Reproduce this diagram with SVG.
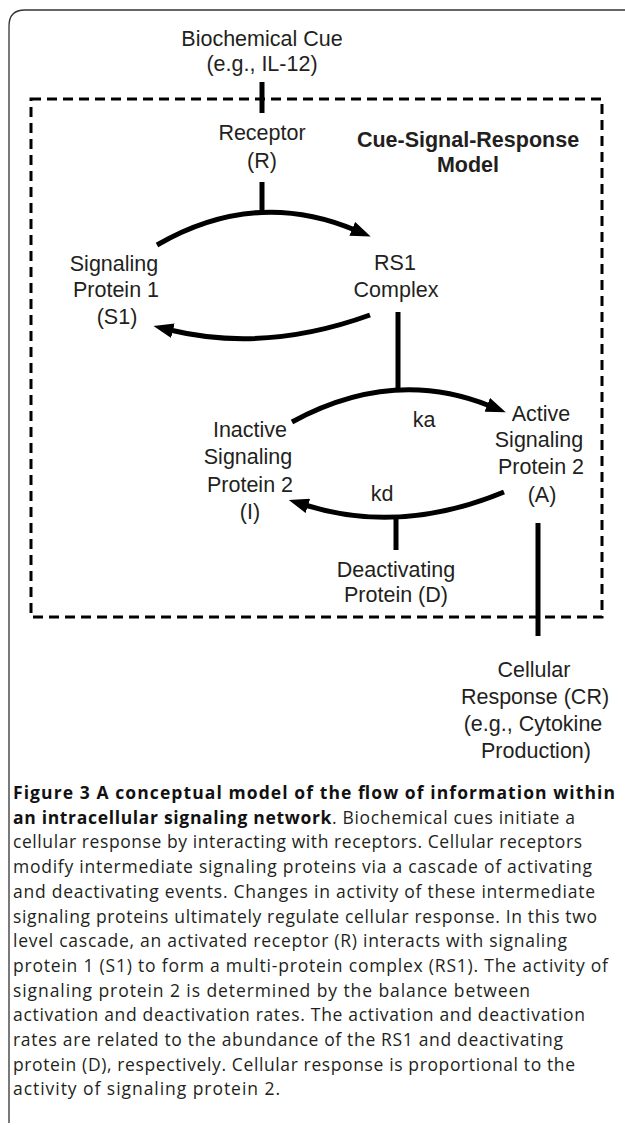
<svg xmlns="http://www.w3.org/2000/svg" width="625" height="1125" viewBox="0 0 625 1125">
<style>
.lbl{font-family:"Liberation Sans",Arial,sans-serif;font-size:21.5px;fill:#231f20;text-anchor:middle}
.bold{font-weight:bold}
.cap{font-family:"Open Sans","Noto Sans",sans-serif;font-size:17.5px;fill:#231f20}
.capb{font-weight:bold;fill:#111}
.wire{fill:none;stroke:#000;stroke-width:5}
</style>
<defs>
<marker id="ah" markerUnits="userSpaceOnUse" viewBox="0 0 20 15" markerWidth="20" markerHeight="15" refX="3" refY="7.5" orient="auto">
<path d="M0,0 L20,7.5 L0,15 z" fill="#000"/>
</marker>
</defs>
<rect width="625" height="1125" fill="#fff"/>
<path id="frame" d="M9,1123 V26 Q9,10 25,10 H625" fill="none" stroke="#333" stroke-width="1.3"/>
<rect id="model-box" x="31" y="99" width="571" height="518" fill="none" stroke="#000" stroke-width="3" stroke-dasharray="10 6"/>

<g id="connectors">
<line class="wire" x1="262" y1="82" x2="262" y2="113"/>
<line class="wire" x1="262" y1="182" x2="262" y2="214"/>
<path class="wire" d="M157,245 Q255,188 355,230" marker-end="url(#ah)"/>
<path class="wire" d="M370,315 Q265,353 170,330" marker-end="url(#ah)"/>
<line class="wire" x1="398" y1="312" x2="398" y2="391"/>
<path class="wire" d="M292,422 Q393,367 490,406" marker-end="url(#ah)"/>
<path class="wire" d="M504,492 Q400,535 305,505" marker-end="url(#ah)"/>
<line class="wire" x1="396" y1="516" x2="396" y2="550"/>
<line class="wire" x1="538" y1="523" x2="538" y2="636"/>
<text class="lbl" x="424" y="427">ka</text>
<text class="lbl" x="382" y="501">kd</text>
</g>

<g id="cue"><text class="lbl" x="262" y="45.5">Biochemical Cue</text><text class="lbl" x="262" y="71">(e.g., IL-12)</text></g>
<g id="model-title"><text class="lbl bold" x="468" y="147">Cue-Signal-Response</text><text class="lbl bold" x="468" y="172">Model</text></g>
<g id="receptor"><text class="lbl" x="262" y="140">Receptor</text><text class="lbl" x="262" y="167.5">(R)</text></g>
<g id="s1"><text class="lbl" x="114" y="270.5">Signaling</text><text class="lbl" x="116" y="297">Protein 1</text><text class="lbl" x="117" y="324">(S1)</text></g>
<g id="rs1"><text class="lbl" x="395" y="270">RS1</text><text class="lbl" x="396" y="297">Complex</text></g>
<g id="inactive"><text class="lbl" x="250" y="437">Inactive</text><text class="lbl" x="248" y="464">Signaling</text><text class="lbl" x="250" y="491.5">Protein 2</text><text class="lbl" x="250" y="519">(I)</text></g>
<g id="active"><text class="lbl" x="541" y="420.5">Active</text><text class="lbl" x="539" y="447">Signaling</text><text class="lbl" x="541" y="474">Protein 2</text><text class="lbl" x="542" y="501.5">(A)</text></g>
<g id="deactivating"><text class="lbl" x="396" y="577">Deactivating</text><text class="lbl" x="396" y="602">Protein (D)</text></g>
<g id="response"><text class="lbl" x="534" y="677">Cellular</text><text class="lbl" x="535" y="704">Response (CR)</text><text class="lbl" x="533" y="731">(e.g., Cytokine</text><text class="lbl" x="536" y="758">Production)</text></g>

<g id="caption">
<text class="cap capb" x="13" y="799" textLength="602">Figure 3 A conceptual model of the flow of information within</text>
<text class="cap" x="13" y="823.7" textLength="562"><tspan class="capb">an intracellular signaling network</tspan>. Biochemical cues initiate a</text>
<text class="cap" x="13" y="848.4" textLength="569">cellular response by interacting with receptors. Cellular receptors</text>
<text class="cap" x="13" y="873.1" textLength="579">modify intermediate signaling proteins via a cascade of activating</text>
<text class="cap" x="13" y="897.8" textLength="582">and deactivating events. Changes in activity of these intermediate</text>
<text class="cap" x="13" y="922.5" textLength="584">signaling proteins ultimately regulate cellular response. In this two</text>
<text class="cap" x="13" y="947.2" textLength="554">level cascade, an activated receptor (R) interacts with signaling</text>
<text class="cap" x="13" y="971.9" textLength="595">protein 1 (S1) to form a multi-protein complex (RS1). The activity of</text>
<text class="cap" x="13" y="996.6" textLength="517">signaling protein 2 is determined by the balance between</text>
<text class="cap" x="13" y="1021.3" textLength="572">activation and deactivation rates. The activation and deactivation</text>
<text class="cap" x="13" y="1046" textLength="550">rates are related to the abundance of the RS1 and deactivating</text>
<text class="cap" x="13" y="1070.7" textLength="562">protein (D), respectively. Cellular response is proportional to the</text>
<text class="cap" x="13" y="1095.4" textLength="267">activity of signaling protein 2.</text>
</g>
</svg>
